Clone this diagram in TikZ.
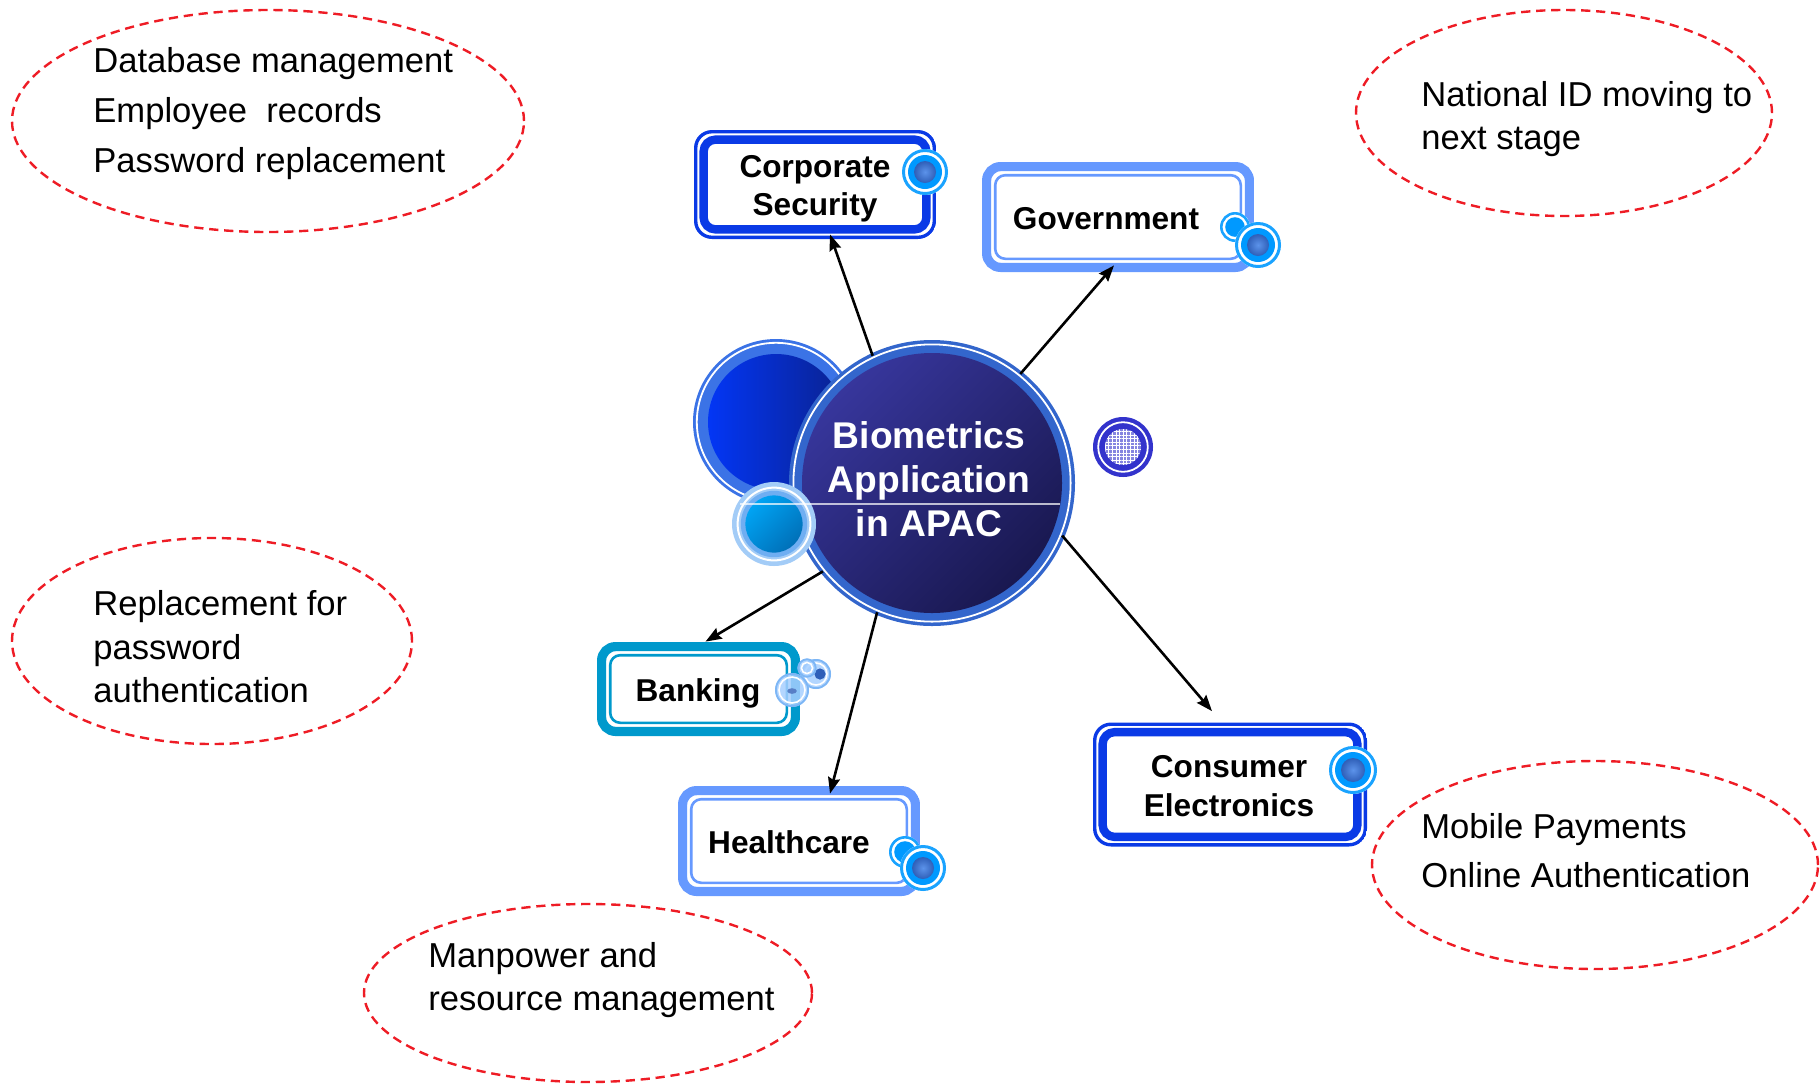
\documentclass[tikz,border=0pt]{standalone}
\usepackage{fontspec}
\setmainfont{Liberation Sans}
\usetikzlibrary{arrows.meta,shapes.geometric,calc,patterns.meta}
\definecolor{dashred}{HTML}{EE1C25}
\definecolor{deepblue}{HTML}{0A3AE6}
\definecolor{softblue}{HTML}{6699FF}
\definecolor{tealblue}{HTML}{0099CC}
\definecolor{bring}{HTML}{1AA3FF}
\definecolor{bfill}{HTML}{0099FF}
\definecolor{blobin}{HTML}{5C93EA}
\definecolor{blobout}{HTML}{2F5FB8}
\definecolor{hubring}{HTML}{3366CC}
\definecolor{hubtop}{HTML}{37369C}
\definecolor{hubbot}{HTML}{191850}
\definecolor{bigring}{HTML}{3B73E6}
\definecolor{bigleft}{HTML}{0336F5}
\definecolor{bigright}{HTML}{0A2290}
\definecolor{smring}{HTML}{A3CCF7}
\definecolor{smmid}{HTML}{6FAEF2}
\definecolor{smin}{HTML}{00A4F4}
\definecolor{smout}{HTML}{0070B8}
\definecolor{patblue}{HTML}{3333CC}
\definecolor{lightbub}{HTML}{A6CFFF}
\definecolor{lightring}{HTML}{7DB6F5}

\tikzset{
 boxA/.style={rectangle, rounded corners=9pt, fill=white, inner sep=0pt, path picture={
   \draw[#1, line width=1.7pt, rounded corners=8.1pt]
     ([shift={(0.85pt,0.85pt)}]path picture bounding box.south west) rectangle
     ([shift={(-0.85pt,-0.85pt)}]path picture bounding box.north east);
   \draw[#1, line width=4.2pt, rounded corners=6pt]
     ([shift={(4.8pt,4.8pt)}]path picture bounding box.south west) rectangle
     ([shift={(-4.8pt,-4.8pt)}]path picture bounding box.north east);}},
 boxB/.style={rectangle, rounded corners=9pt, fill=white, inner sep=0pt, path picture={
   \draw[#1, line width=4.6pt, rounded corners=7pt]
     ([shift={(2.3pt,2.3pt)}]path picture bounding box.south west) rectangle
     ([shift={(-2.3pt,-2.3pt)}]path picture bounding box.north east);
   \draw[#1, line width=1.3pt, rounded corners=5pt]
     ([shift={(6.6pt,6.6pt)}]path picture bounding box.south west) rectangle
     ([shift={(-6.6pt,-6.6pt)}]path picture bounding box.north east);}},
 ell/.style={ellipse, draw=dashred, line width=1.2pt, dash pattern=on 4.6pt off 2.9pt, inner sep=0pt},
 etext/.style={anchor=west, align=left, inner sep=0pt, text=black},
 btext/.style={align=center, inner sep=0pt, font=\bfseries\fontsize{15.8pt}{19.2pt}\selectfont},
 arr/.style={-{Stealth[length=8pt,width=6pt,inset=1pt]}, line width=1.3pt, black}
}

\newcommand\glassdot[3]{%
  \fill[white] (#1,#2) circle ({#3*1pt});
  \draw[bring, line width=1.5pt] (#1,#2) circle ({(#3-0.75)*1pt});
  \fill[bfill] (#1,#2) circle ({(#3-3)*1pt});
  \shade[inner color=blobin, outer color=blobout] (#1,#2) circle ({(#3-6)*1pt});
}
\newcommand\glasssmall[3]{%
  \fill[white] (#1,#2) circle ({#3*1pt});
  \draw[bring, line width=1.3pt] (#1,#2) circle ({(#3-0.65)*1pt});
  \fill[bfill] (#1,#2) circle ({(#3-2.6)*1pt});
}
\newcommand\lightbubble[3]{%
  \fill[lightbub, opacity=0.85] (#1,#2) circle ({#3*1pt});
  \draw[lightring, line width=0.9pt] (#1,#2) circle ({(#3-0.45)*1pt});
  \draw[white, line width=0.8pt] (#1,#2) circle ({(#3-2)*1pt});
}

\begin{document}
\begin{tikzpicture}[x=0.5pt,y=-0.5pt]
\useasboundingbox (0,0) rectangle (1820,1083);

% dashed ellipses
\node[ell, minimum width=256pt, minimum height=111pt] (e1) at (268,121) {};
\node[ell, minimum width=208pt, minimum height=103pt] (e2) at (1564,113) {};
\node[ell, minimum width=200pt, minimum height=103pt] (e3) at (212,641) {};
\node[ell, minimum width=224pt, minimum height=89pt] (e4) at (588,993) {};
\node[ell, minimum width=223pt, minimum height=104pt] (e5) at (1595,865) {};

\node[etext, font=\fontsize{17.3pt}{25pt}\selectfont] (t1) at (93,113.5)
  {Database management\\Employee\ \ records\\Password replacement};
\node[etext, font=\fontsize{17.3pt}{21.5pt}\selectfont] (t2) at (1421,119)
  {National ID moving to\\next stage};
\node[etext, font=\fontsize{17.3pt}{21.7pt}\selectfont] (t3) at (93,647)
  {Replacement for\\password\\authentication};
\node[etext, font=\fontsize{17.3pt}{21.5pt}\selectfont] (t4) at (428,980)
  {Manpower and\\resource management};
\node[etext, font=\fontsize{17.3pt}{24.5pt}\selectfont] (t5) at (1421,850.5)
  {Mobile Payments\\Online Authentication};

% big left circle
\fill[bigring] (776,422) circle (41.5pt);
\draw[white, line width=0.9pt] (776,422) circle (39.6pt);
\shade[left color=bigleft, right color=bigright] (776,422) circle (34pt);

% central circle
\fill[hubring] (932,483) circle (71.5pt);
\draw[white, line width=0.9pt] (932,483) circle (69.3pt);
\shade[top color=hubtop, bottom color=hubbot, shading angle=45] (932,483) circle (65pt);

% small circle
\fill[smring] (774,524) circle (21pt);
\draw[white, line width=1pt] (774,524) circle (18.2pt);
\fill[smmid] (774,524) circle (16.6pt);
\shade[top color=smin, bottom color=smout, shading angle=45] (774,524) circle (14.3pt);

\draw[white, opacity=0.7, line width=0.6pt] (740,504) -- (1060,504);

% patterned circle
\fill[patblue] (1123,447) circle (15pt);
\draw[white, line width=0.9pt] (1123,447) circle (12.4pt);
\fill[patblue!60!white] (1123,447) circle (9pt);
\fill[pattern={Hatch[angle=0,distance=1.8pt,line width=0.35pt]}, pattern color=white] (1123,447) circle (9pt);

\node[circle, minimum size=140pt, inner sep=0pt] (hub) at (932,483) {};
\node[align=center, inner sep=0pt, text=white, font=\bfseries\fontsize{18.6pt}{22pt}\selectfont] (hubt) at (929,479)
  {Biometrics\\Application\\in APAC};

% boxes
\node[boxA=deepblue, minimum width=121pt, minimum height=54.5pt] (cs) at (815,184.5) {};
\node[btext] (cst) at (815,189) {Corporate\\Security};
\glassdot{925}{172}{11.5}

\node[boxB=softblue, minimum width=136pt, minimum height=55pt] (gov) at (1118,217) {};
\node[btext] (govt) at (1106,219) {Government};
\glasssmall{1235}{227}{7.5}
\glassdot{1258}{245}{11.5}

\node[boxB=tealblue, minimum width=101.5pt, minimum height=47pt] (bank) at (698.5,689) {};
\node[btext] (bankt) at (698,693) {Banking};
\lightbubble{816}{674}{7.5}
\fill[blobout] (820,674) circle (2.8pt);
\lightbubble{807}{668}{4.8}
\lightbubble{792}{690}{8.5}
\fill[blobout!80!white] (792,691) ellipse (2.4pt and 1.4pt);

\node[boxB=softblue, minimum width=121pt, minimum height=55pt] (hc) at (799,841) {};
\node[btext] (hct) at (789,842) {Healthcare};
\glasssmall{905}{852}{8}
\glassdot{923}{868}{11.5}

\node[boxA=deepblue, minimum width=137pt, minimum height=62pt] (ce) at (1230,784.5) {};
\node[btext] (cet) at (1229,786) {Consumer\\Electronics};
\glassdot{1353}{770}{12}

% connectors
\draw[arr] (hub.115) -- ($(cs.south)+(15,-5)$);
\draw[arr] (hub.51) -- ($(gov.south)+(-4,-7)$);
\draw[arr] (hub.219) -- ($(bank.north)+(7,0)$);
\draw[arr] (hub.247) -- ($(hc.north)+(31,8)$);
\draw[arr] (hub.338) -- ($(ce.north)+(-18,-11)$);
\end{tikzpicture}
\end{document}
